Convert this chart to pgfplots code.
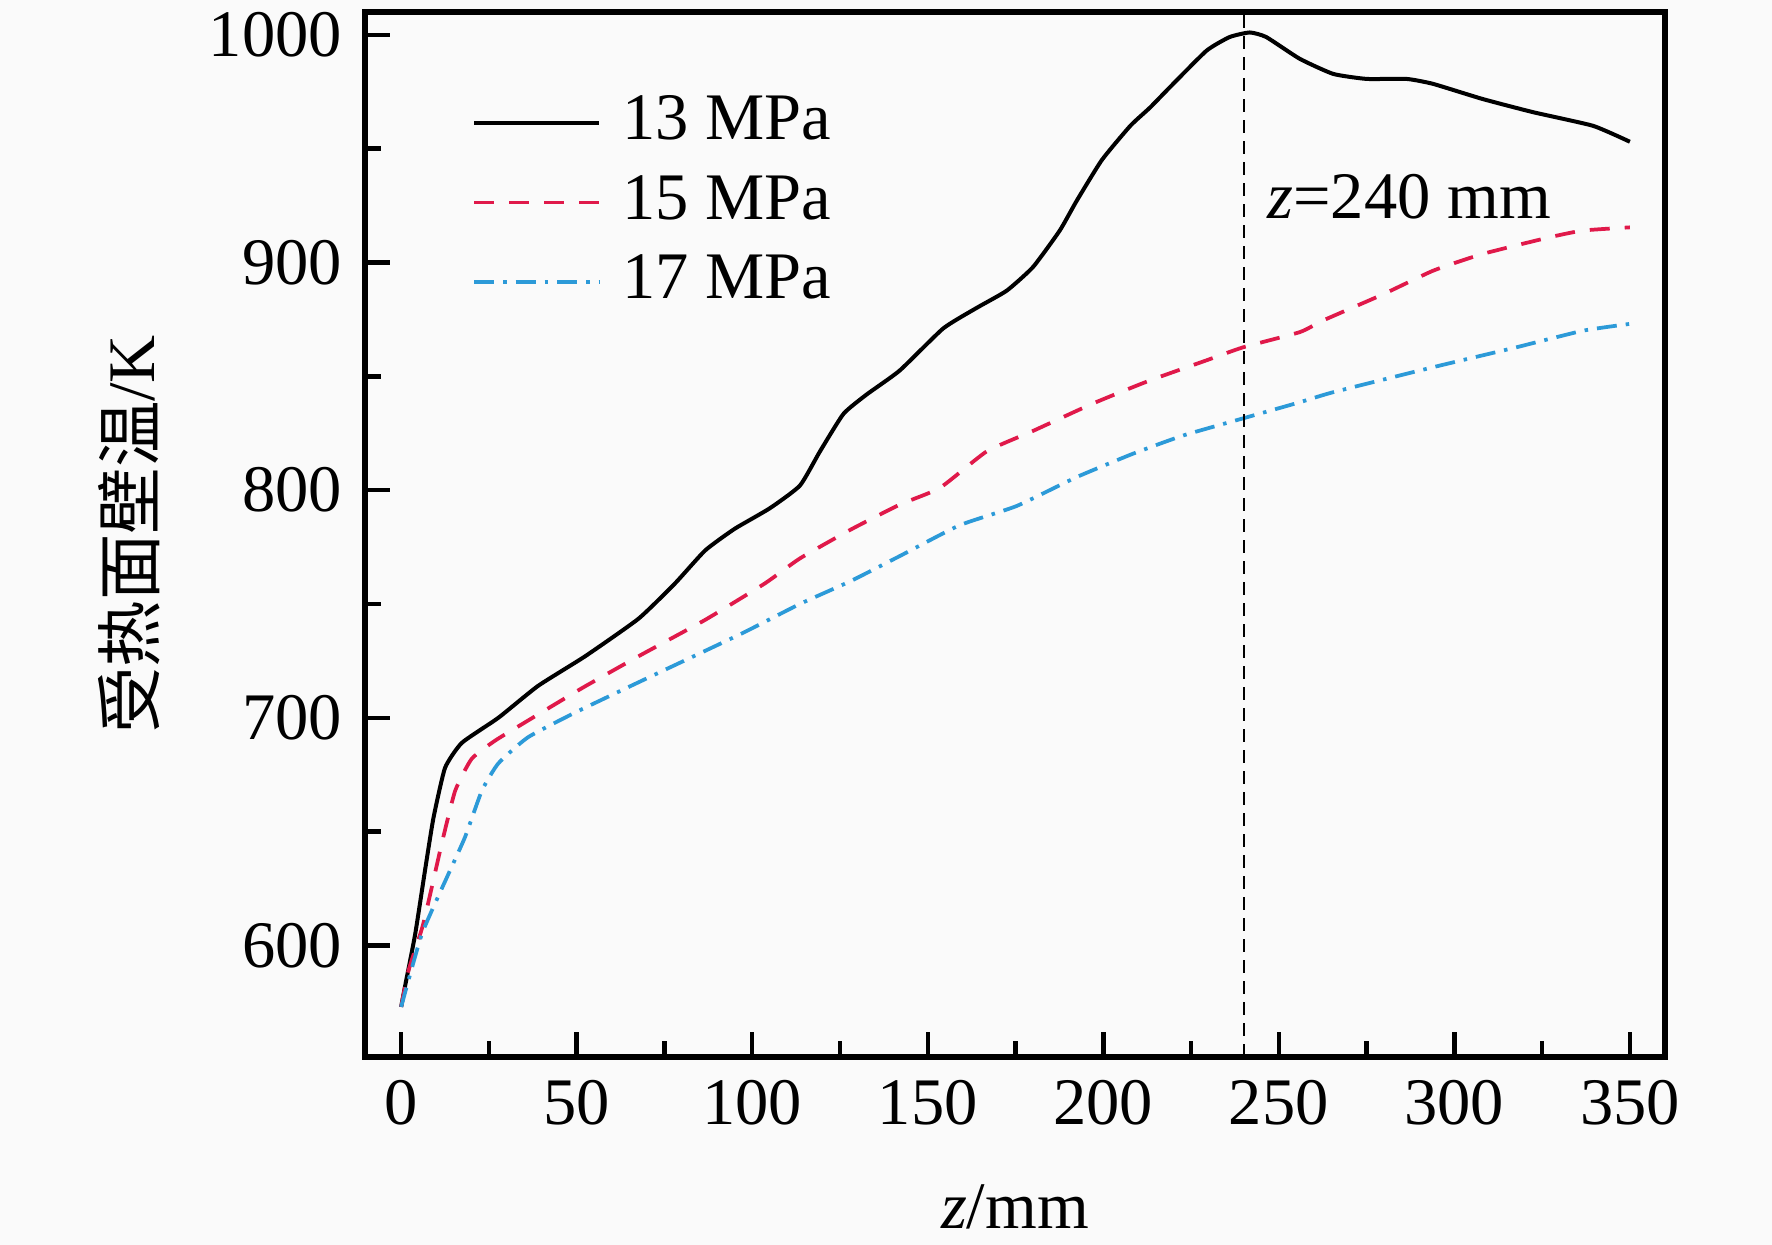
\documentclass[border=0pt]{standalone}
\usepackage{fontspec}
\setmainfont{Liberation Serif}
\newfontfamily\cjk{Noto Sans CJK SC}
\usepackage{pgfplots}
\pgfplotsset{compat=1.18}
\definecolor{c15}{HTML}{E0194A}
\definecolor{c17}{HTML}{2C9AD8}
\definecolor{bg}{HTML}{FAFAFA}

\pgfplotstableread{
z T
0 573
1.1 582
4 605
6.8 633
9.2 656
12.5 678
17.3 689
27.7 700
39 714
52.4 727
67.6 743.5
78 759
86.6 773.5
95 783
105 792
113.6 802
119.3 817
126 833.5
132.6 842
142 852.5
154.4 871
163.9 880
172.5 887.6
180 898
187.6 914
192.4 927
199.6 945
207.7 960
213.3 968
219 977
229.4 993
236 999
241.7 1001
246.4 999
256 989.4
265.5 982.8
275 980.6
286.4 980.6
294 978.4
308 971.8
322.4 966
339.5 960
350 953
}\dataA

\pgfplotstableread{
z T
0 573
2.1 589
6.3 609.5
11.6 645
15.4 668
20.1 682
26.8 690
35.3 698
51.5 713
67.6 727
86.6 743
103.6 759
113.6 770
128 782.6
142 793.6
153.5 801
166.8 817
180 826
197 838
213 848
229.4 857
239.8 862.7
256 869.4
262.6 874.5
279.7 886
294 896.4
308 903.7
327 911
336.6 914
350 915.4
}\dataB

\pgfplotstableread{
z T
0 573
5.9 605
13.5 631.5
18.2 647.6
23 668
27.7 680
36.2 691.5
50.5 703
72.3 719
97 737
113.6 750
128 760
142 771
159 784.5
175.3 793
192.4 805.7
208.5 816
222.8 824
239.8 831.5
256 838.6
265.5 843
294 854
317.6 862.7
336.6 870
350 873
}\dataC

\begin{document}
\fontsize{13.3pt}{15.8pt}\selectfont
\begin{tikzpicture}[x=1pt,y=1pt]
\path[use as bounding box, fill=bg] (0,0) rectangle (354.4,249);
\begin{axis}[
  at={(73pt,37.6pt)}, anchor=south west,
  scale only axis, width=260pt, height=209pt,
  xmin=-10.3, xmax=360, ymin=551, ymax=1010,
  xtick={0,50,...,350}, ytick={600,700,...,1000},
  minor xtick={25,75,...,325}, minor ytick={650,750,850,950},
  xtick pos=bottom, ytick pos=left,
  tick align=inside,
  major tick length=5pt, minor tick length=3.2pt,
  every tick/.style={black, line width=0.9pt},
  axis line style={line width=1.1pt},
  /pgf/number format/assume math mode=true,
  /pgf/number format/1000 sep={},
  tick label style={font=\fontsize{13.3pt}{15pt}\selectfont},
  xlabel={\textit{z}/mm},
  ylabel={{\cjk 受热面壁温}/K},
  xlabel style={at={(axis description cs:0.5,-0.1435)}, anchor=center},
  ylabel style={at={(axis description cs:-0.181,0.5)}, anchor=center},
  legend cell align=left,
  legend style={draw=none, fill=none, at={(0.07,0.940)}, anchor=north west,
    font=\fontsize{13.3pt}{15pt}\selectfont, row sep=1.15pt,
    nodes={inner xsep=4.3pt}},
  legend image code/.code={\draw[#1] (0pt,0pt) -- (25pt,0pt);},
]
\addplot[black, line width=0.8pt, smooth, tension=0.3] table[x=z,y=T] {\dataA};
\addlegendentry{13 MPa}
\addplot[c15, line width=0.75pt, smooth, tension=0.3, dash pattern=on 4pt off 3pt] table[x=z,y=T] {\dataB};
\addlegendentry{15 MPa}
\addplot[c17, line width=0.75pt, smooth, tension=0.3, dash pattern=on 4pt off 1.8pt on 0.7pt off 1.8pt] table[x=z,y=T] {\dataC};
\addlegendentry{17 MPa}
\addplot[black, line width=0.4pt, dash pattern=on 2.6pt off 1.6pt, forget plot] coordinates {(240,551) (240,1010)};
\node[anchor=base west, inner sep=0pt] at (axis cs:246.5,919.3) {\textit{z}=240 mm};
\end{axis}
\end{tikzpicture}
\end{document}
